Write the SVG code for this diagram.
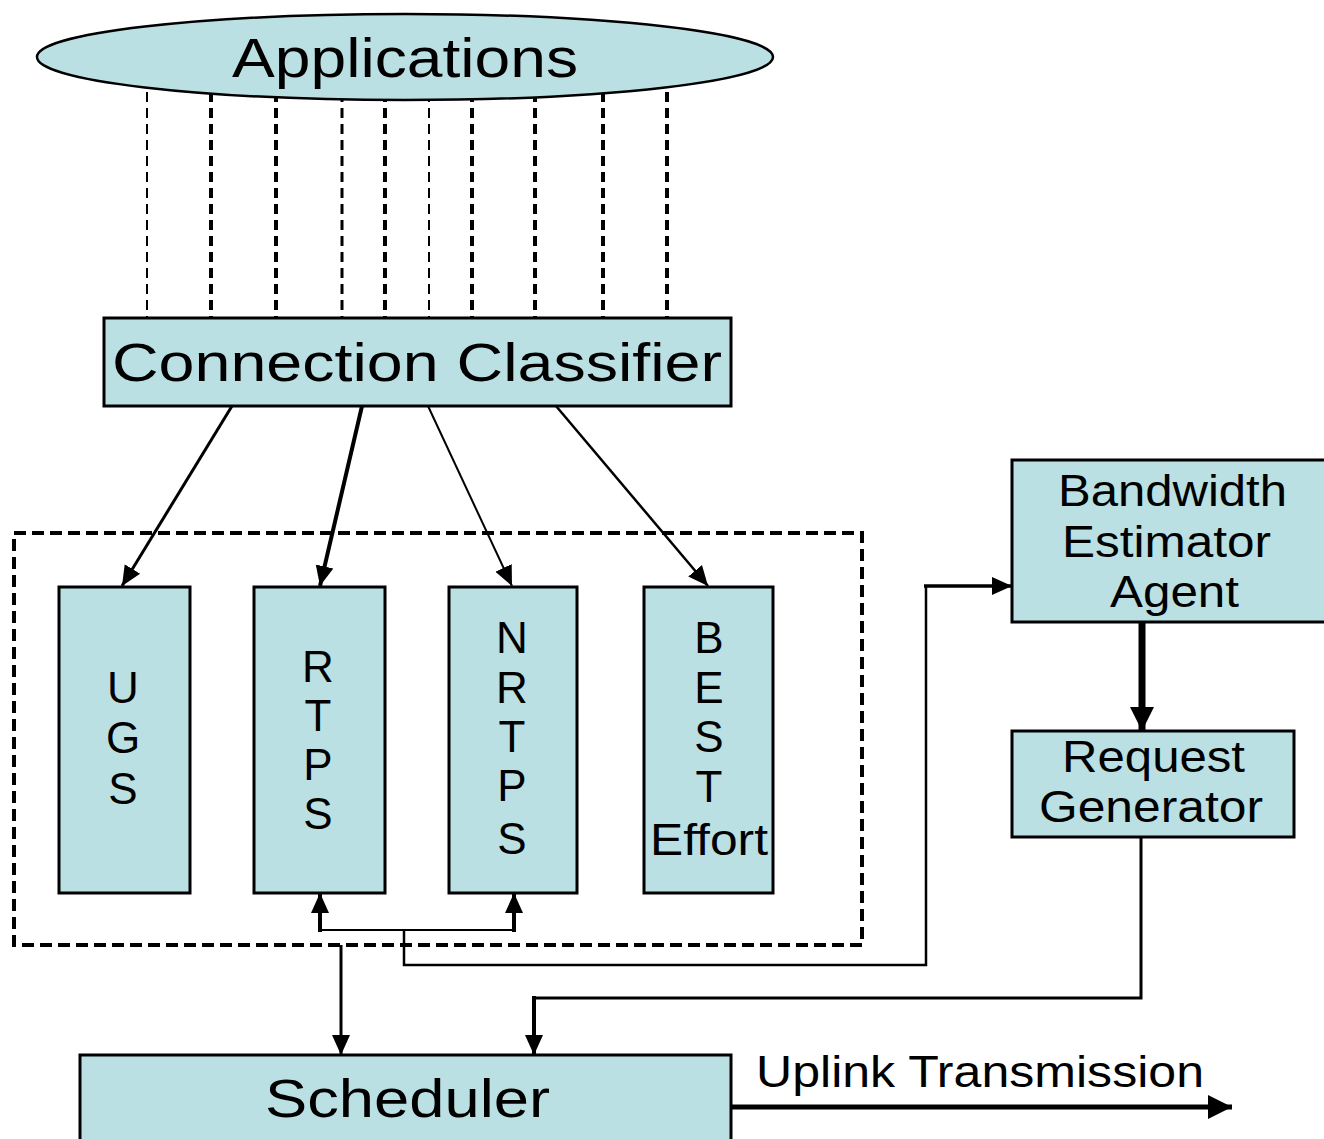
<svg xmlns="http://www.w3.org/2000/svg" width="1324" height="1139" viewBox="0 0 1324 1139">
  <style>
    .box { fill: #bbe0e3; stroke: #000; stroke-width: 3; }
    .lbl { font-family: "Liberation Sans", Arial, sans-serif; fill: #000; }
    .big { font-size: 54px; }
    .mid { font-size: 44px; }
    .ctr { text-anchor: middle; }
    .feed { stroke: #000; stroke-dasharray: 10 6; fill: none; }
    .wire { stroke: #000; fill: none; }
  </style>
  <defs>
    <marker id="head" markerUnits="userSpaceOnUse" markerWidth="22" markerHeight="20" refX="20" refY="10" orient="auto">
      <path d="M0,1 L20,10 L0,19 Z" fill="#000"/>
    </marker>
    <marker id="headBig" markerUnits="userSpaceOnUse" markerWidth="26" markerHeight="26" refX="24" refY="13" orient="auto">
      <path d="M0,1 L24,13 L0,25 Z" fill="#000"/>
    </marker>
  </defs>

  <rect width="1324" height="1139" fill="#fff"/>

  <!-- service-class container -->
  <g id="classes-frame">
    <rect x="14" y="533" width="848" height="412" fill="none" stroke="#000" stroke-width="4" stroke-dasharray="12 6"/>
  </g>

  <!-- connectors -->
  <g id="connectors">
    <!-- application flows into the classifier -->
    <line class="feed" x1="147" y1="60" x2="147" y2="318" stroke-width="2"/>
    <line class="feed" x1="211" y1="60" x2="211" y2="318" stroke-width="4"/>
    <line class="feed" x1="276" y1="60" x2="276" y2="318" stroke-width="4"/>
    <line class="feed" x1="342" y1="60" x2="342" y2="318" stroke-width="3"/>
    <line class="feed" x1="385" y1="60" x2="385" y2="318" stroke-width="4"/>
    <line class="feed" x1="429" y1="60" x2="429" y2="318" stroke-width="2"/>
    <line class="feed" x1="472" y1="60" x2="472" y2="318" stroke-width="4"/>
    <line class="feed" x1="535" y1="60" x2="535" y2="318" stroke-width="4"/>
    <line class="feed" x1="603" y1="60" x2="603" y2="318" stroke-width="4"/>
    <line class="feed" x1="667" y1="60" x2="667" y2="318" stroke-width="4"/>

    <!-- classifier to service classes -->
    <line class="wire" x1="232" y1="406" x2="122" y2="586" stroke-width="3" marker-end="url(#head)"/>
    <line class="wire" x1="362" y1="406" x2="320" y2="586" stroke-width="4" marker-end="url(#head)"/>
    <line class="wire" x1="428" y1="406" x2="512" y2="586" stroke-width="2" marker-end="url(#head)"/>
    <line class="wire" x1="556" y1="406" x2="708" y2="586" stroke-width="2.5" marker-end="url(#head)"/>

    <!-- feedback to rtPS / nrtPS and to the estimator -->
    <polyline class="wire" points="320,930 514,930" stroke-width="2"/>
    <line class="wire" x1="320" y1="932" x2="320" y2="893" stroke-width="4" marker-end="url(#head)"/>
    <line class="wire" x1="514" y1="932" x2="514" y2="893" stroke-width="4" marker-end="url(#head)"/>
    <polyline class="wire" points="404,930 404,965 926,965 926,586" stroke-width="2.5"/>
    <line class="wire" x1="924" y1="586" x2="1012" y2="586" stroke-width="3.5" marker-end="url(#head)"/>

    <!-- estimator to request generator -->
    <line class="wire" x1="1142" y1="623" x2="1142" y2="731" stroke-width="7" marker-end="url(#headBig)"/>

    <!-- request generator to scheduler -->
    <polyline class="wire" points="1141,838 1141,998 534,998 534,1030" stroke-width="3"/>
    <line class="wire" x1="534" y1="996" x2="534" y2="1055" stroke-width="4" marker-end="url(#head)"/>

    <!-- service classes to scheduler -->
    <line class="wire" x1="341" y1="945" x2="341" y2="1055" stroke-width="3" marker-end="url(#head)"/>

    <!-- uplink output -->
    <line class="wire" x1="731" y1="1107" x2="1232" y2="1107" stroke-width="5" marker-end="url(#headBig)"/>
  </g>

  <g id="applications">
    <ellipse cx="405" cy="57" rx="368" ry="43" fill="#bbe0e3" stroke="#000" stroke-width="2.5"/>
    <text class="lbl" x="232" y="77" font-size="56" textLength="346" lengthAdjust="spacingAndGlyphs">Applications</text>
  </g>

  <g id="connection-classifier">
    <rect class="box" x="104" y="318" width="627" height="88"/>
    <text class="lbl big" x="112" y="381" textLength="610" lengthAdjust="spacingAndGlyphs">Connection Classifier</text>
  </g>

  <g id="ugs">
    <rect class="box" x="59" y="587" width="131" height="306"/>
    <text class="lbl mid ctr" x="123" y="703">U</text>
    <text class="lbl mid ctr" x="123" y="753">G</text>
    <text class="lbl mid ctr" x="123" y="804">S</text>
  </g>

  <g id="rtps">
    <rect class="box" x="254" y="587" width="131" height="306"/>
    <text class="lbl mid ctr" x="318" y="682">R</text>
    <text class="lbl mid ctr" x="318" y="731">T</text>
    <text class="lbl mid ctr" x="318" y="780">P</text>
    <text class="lbl mid ctr" x="318" y="829">S</text>
  </g>

  <g id="nrtps">
    <rect class="box" x="449" y="587" width="128" height="306"/>
    <text class="lbl mid ctr" x="512" y="653">N</text>
    <text class="lbl mid ctr" x="512" y="703">R</text>
    <text class="lbl mid ctr" x="512" y="752">T</text>
    <text class="lbl mid ctr" x="512" y="801">P</text>
    <text class="lbl mid ctr" x="512" y="854">S</text>
  </g>

  <g id="best-effort">
    <rect class="box" x="644" y="587" width="129" height="306"/>
    <text class="lbl mid ctr" x="709" y="653">B</text>
    <text class="lbl mid ctr" x="709" y="703">E</text>
    <text class="lbl mid ctr" x="709" y="752">S</text>
    <text class="lbl mid ctr" x="709" y="802">T</text>
    <text class="lbl mid" x="650" y="855" textLength="118" lengthAdjust="spacingAndGlyphs">Effort</text>
  </g>

  <g id="bandwidth-estimator">
    <rect class="box" x="1012" y="460" width="316" height="162"/>
    <text class="lbl mid" x="1058" y="506" textLength="229" lengthAdjust="spacingAndGlyphs">Bandwidth</text>
    <text class="lbl mid" x="1062" y="557" textLength="209" lengthAdjust="spacingAndGlyphs">Estimator</text>
    <text class="lbl mid" x="1110" y="607" textLength="129" lengthAdjust="spacingAndGlyphs">Agent</text>
  </g>

  <g id="request-generator">
    <rect class="box" x="1012" y="731" width="282" height="106"/>
    <text class="lbl mid" x="1062" y="772" textLength="183" lengthAdjust="spacingAndGlyphs">Request</text>
    <text class="lbl mid" x="1039" y="822" textLength="224" lengthAdjust="spacingAndGlyphs">Generator</text>
  </g>

  <g id="scheduler">
    <rect class="box" x="80" y="1055" width="651" height="90"/>
    <text class="lbl big" x="265" y="1117" textLength="285" lengthAdjust="spacingAndGlyphs">Scheduler</text>
  </g>

  <g id="uplink-label">
    <text class="lbl mid" x="756" y="1087" textLength="448" lengthAdjust="spacingAndGlyphs">Uplink Transmission</text>
  </g>
</svg>
